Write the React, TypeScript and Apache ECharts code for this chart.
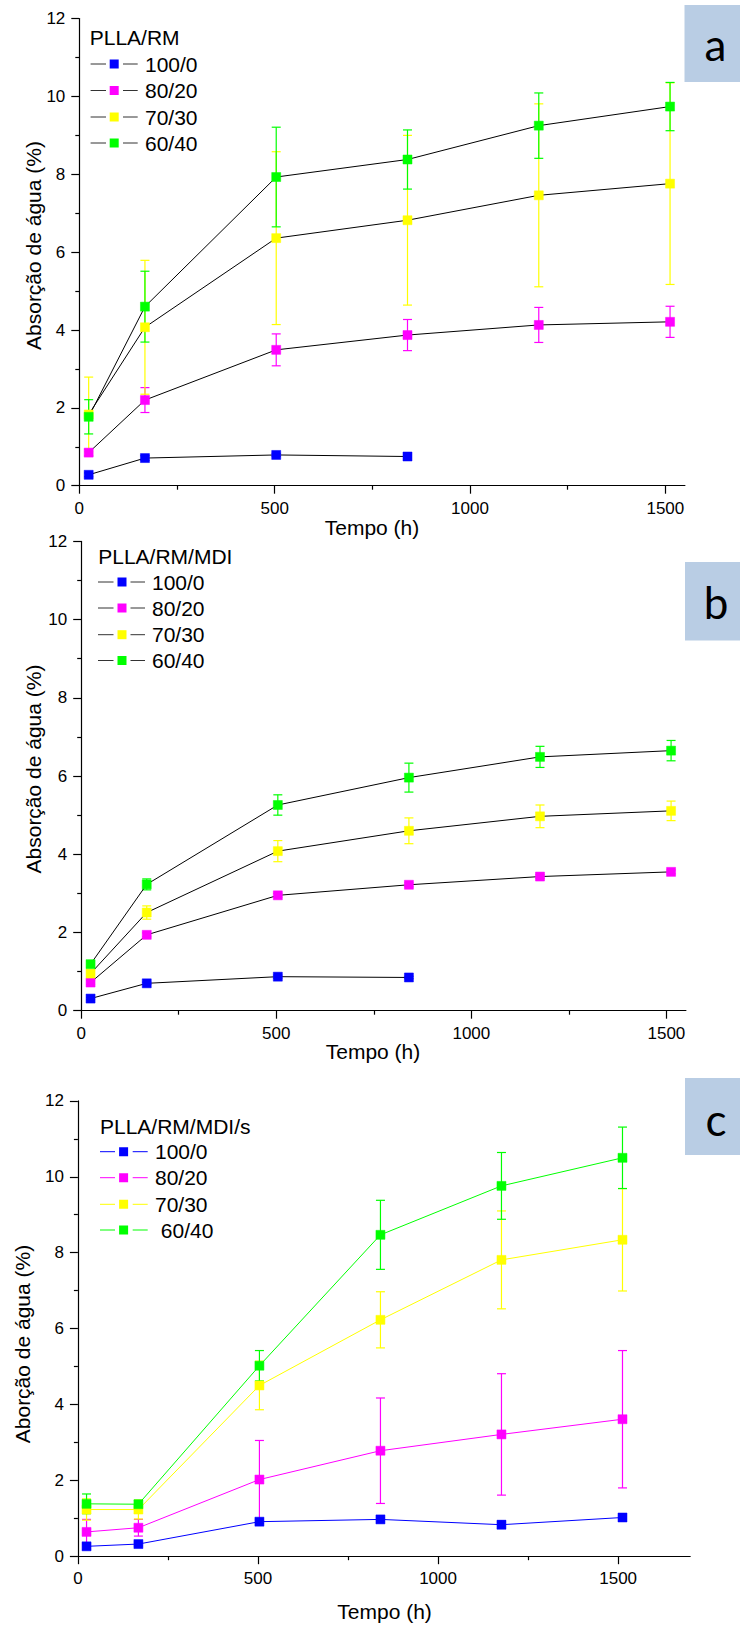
import React, { useEffect, useRef } from "react";
import * as echarts from "echarts";

// ---------- data ----------
const times = [24, 168, 504, 840, 1176, 1512];
const compositions = ["100/0", "80/20", "70/30", "60/40"];
const compositionsC = ["100/0", "80/20", "70/30", " 60/40"];
const seriesColors = ["#0000ff", "#ff00ff", "#ffff00", "#00ff00"];

// Panel a: PLLA/RM
const aBlue = [0.28, 0.71, 0.79, 0.75];
const aBlueErr = [0.05, 0.06, 0.04, 0.03];
const aMagenta = [0.85, 2.2, 3.49, 3.87, 4.13, 4.21];
const aMagentaErr = [0.08, 0.32, 0.41, 0.4, 0.45, 0.4];
const aYellow = [1.83, 4.07, 6.36, 6.82, 7.46, 7.76];
const aYellowErr = [0.96, 1.72, 2.22, 2.18, 2.35, 2.59];
const aGreen = [1.77, 4.6, 7.93, 8.38, 9.25, 9.74];
const aGreenErr = [0.44, 0.91, 1.28, 0.76, 0.84, 0.62];

// Panel b: PLLA/RM/MDI
const bBlue = [0.31, 0.7, 0.87, 0.85];
const bBlueErr = [0.03, 0.03, 0.04, 0.03];
const bMagenta = [0.72, 1.94, 2.95, 3.22, 3.43, 3.55];
const bMagentaErr = [0.05, 0.05, 0.05, 0.05, 0.05, 0.05];
const bYellow = [0.95, 2.51, 4.08, 4.6, 4.97, 5.11];
const bYellowErr = [0.08, 0.17, 0.27, 0.33, 0.29, 0.25];
const bGreen = [1.19, 3.23, 5.26, 5.96, 6.49, 6.65];
const bGreenErr = [0.08, 0.14, 0.26, 0.37, 0.27, 0.26];

// Panel c: PLLA/RM/MDI/s
const cBlue = [0.26, 0.32, 0.91, 0.97, 0.83, 1.02];
const cBlueErr = [0.08, 0.05, 0.05, 0.04, 0.1, 0.05];
const cMagenta = [0.64, 0.75, 2.02, 2.78, 3.21, 3.61];
const cMagentaErr = [0.33, 0.22, 1.03, 1.39, 1.6, 1.81];
const cYellow = [1.23, 1.23, 4.5, 6.23, 7.81, 8.34];
const cYellowErr = [0.28, 0.25, 0.64, 0.74, 1.29, 1.35];
const cGreen = [1.38, 1.37, 5.02, 8.47, 9.76, 10.5];
const cGreenErr = [0.26, 0.1, 0.4, 0.91, 0.88, 0.81];

const xMajorTicks = [0, 500, 1000, 1500];
const xMinorTicks = [250, 750, 1250];

// ---------- layout ----------
const FONT = "'Liberation Sans', Arial, sans-serif";

type Panel = {
  letter: string;
  legendTitle: string;
  labels: string[];
  yTitle: string;
  values: number[][];
  errors: number[][];
  xMax: number;
  grid: { left: number; top: number; width: number; height: number };
  lineColored: boolean;
  yTitlePos: [number, number];
  xTitlePos: [number, number];
  legend: { titleX: number; titleY: number; ys: number[]; l1: number; l2: number; m: number; r1: number; r2: number; tx: number };
  box: { x: number; y: number; w: number; h: number; ty: number };
};

const panels: Panel[] = [
  {
    letter: "a",
    legendTitle: "PLLA/RM",
    labels: compositions,
    yTitle: "Absorção de água (%)",
    values: [aBlue, aMagenta, aYellow, aGreen],
    errors: [aBlueErr, aMagentaErr, aYellowErr, aGreenErr],
    xMax: 1550,
    grid: { left: 79.3, top: 18.6, width: 605.6, height: 467.1 },
    lineColored: false,
    yTitlePos: [33, 245.5],
    xTitlePos: [372, 527],
    legend: { titleX: 89.7, titleY: 37.5, ys: [64, 90.5, 117, 143], l1: 90.6, l2: 106, m: 114.2, r1: 123, r2: 137.7, tx: 145 },
    box: { x: 684.5, y: 5, w: 56, h: 77, ty: 44 },
  },
  {
    letter: "b",
    legendTitle: "PLLA/RM/MDI",
    labels: compositions,
    yTitle: "Absorção de água (%)",
    values: [bBlue, bMagenta, bYellow, bGreen],
    errors: [bBlueErr, bMagentaErr, bYellowErr, bGreenErr],
    xMax: 1550,
    grid: { left: 81.2, top: 541.4, width: 604.7, height: 469.3 },
    lineColored: false,
    yTitlePos: [33, 769],
    xTitlePos: [373, 1051],
    legend: { titleX: 98.2, titleY: 556.2, ys: [582, 608, 634.7, 660.5], l1: 98, l2: 113.5, m: 122, r1: 130.5, r2: 145, tx: 152 },
    box: { x: 685, y: 562, w: 55, h: 78.5, ty: 602 },
  },
  {
    letter: "c",
    legendTitle: "PLLA/RM/MDI/s",
    labels: compositionsC,
    yTitle: "Aborção de água (%)",
    values: [cBlue, cMagenta, cYellow, cGreen],
    errors: [cBlueErr, cMagentaErr, cYellowErr, cGreenErr],
    xMax: 1700,
    grid: { left: 77.9, top: 1100.9, width: 612.3, height: 455.3 },
    lineColored: true,
    yTitlePos: [22.6, 1344],
    xTitlePos: [384.6, 1611],
    legend: { titleX: 100, titleY: 1126.7, ys: [1151.7, 1177.7, 1204.3, 1230], l1: 100, l2: 115, m: 123.6, r1: 132.7, r2: 147.7, tx: 155 },
    box: { x: 685, y: 1078, w: 55, h: 77, ty: 1119 },
  },
];

function buildOption() {
  const grid: any[] = [];
  const xAxis: any[] = [];
  const yAxis: any[] = [];
  const series: any[] = [];
  const graphic: any[] = [];

  panels.forEach((p, pi) => {
    grid.push({ ...p.grid });
    // main x axis
    xAxis.push({
      type: "value",
      gridIndex: pi,
      min: 0,
      max: p.xMax,
      position: "bottom",
      axisLine: { show: true, onZero: false, lineStyle: { color: "#000", width: 1.2 } },
      axisTick: { show: true, customValues: xMajorTicks, length: 8, lineStyle: { color: "#000", width: 1.2 } },
      axisLabel: {
        customValues: xMajorTicks,
        formatter: (v: number) => String(v),
        margin: 14,
        fontSize: 17,
        color: "#000",
        fontFamily: FONT,
      },
      splitLine: { show: false },
    });
    // minor ticks x axis
    xAxis.push({
      type: "value",
      gridIndex: pi,
      min: 0,
      max: p.xMax,
      position: "bottom",
      axisLine: { show: false },
      axisTick: { show: true, customValues: xMinorTicks, length: 4, lineStyle: { color: "#000", width: 1.2 } },
      axisLabel: { show: false },
      splitLine: { show: false },
    });
    yAxis.push({
      type: "value",
      gridIndex: pi,
      min: 0,
      max: 12,
      interval: 2,
      axisLine: { show: true, onZero: false, lineStyle: { color: "#000", width: 1.2 } },
      axisTick: { show: true, length: 8, lineStyle: { color: "#000", width: 1.2 } },
      minorTick: { show: true, splitNumber: 2, length: 4, lineStyle: { color: "#000", width: 1.2 } },
      axisLabel: { margin: 14, fontSize: 17, color: "#000", fontFamily: FONT, formatter: (v: number) => String(v) },
      splitLine: { show: false },
    });

    const xIdx = pi * 2;
    // error bars
    p.values.forEach((vals, si) => {
      const color = seriesColors[si];
      const errs = p.errors[si];
      series.push({
        type: "custom",
        xAxisIndex: xIdx,
        yAxisIndex: pi,
        silent: true,
        z: 2,
        data: vals.map((v, i) => [times[i], v - errs[i], v + errs[i]]),
        renderItem: (params: any, api: any) => {
          const x = api.value(0);
          const lo = api.coord([x, api.value(1)]);
          const hi = api.coord([x, api.value(2)]);
          const hw = 4.5;
          const st = { stroke: color, lineWidth: 1.2 };
          return {
            type: "group",
            children: [
              { type: "line", shape: { x1: hi[0], y1: hi[1], x2: lo[0], y2: lo[1] }, style: st },
              { type: "line", shape: { x1: hi[0] - hw, y1: hi[1], x2: hi[0] + hw, y2: hi[1] }, style: st },
              { type: "line", shape: { x1: lo[0] - hw, y1: lo[1], x2: lo[0] + hw, y2: lo[1] }, style: st },
            ],
          };
        },
      });
    });
    // lines with markers
    p.values.forEach((vals, si) => {
      const color = seriesColors[si];
      series.push({
        type: "line",
        name: p.labels[si],
        xAxisIndex: xIdx,
        yAxisIndex: pi,
        z: 3,
        symbol: "rect",
        symbolSize: 9,
        showAllSymbol: true,
        data: vals.map((v, i) => [times[i], v]),
        lineStyle: { color: p.lineColored ? color : "#000", width: 1 },
        itemStyle: { color, borderColor: color, borderWidth: 0.5, opacity: 1 },
        emphasis: { disabled: true },
      });
    });

    // axis titles
    graphic.push({
      type: "text",
      x: p.yTitlePos[0],
      y: p.yTitlePos[1],
      rotation: Math.PI / 2,
      style: { text: p.yTitle, fontSize: 21, fontFamily: FONT, fill: "#000", align: "center", verticalAlign: "middle" },
    });
    graphic.push({
      type: "text",
      x: p.xTitlePos[0],
      y: p.xTitlePos[1],
      style: { text: "Tempo (h)", fontSize: 21, fontFamily: FONT, fill: "#000", align: "center", verticalAlign: "middle" },
    });

    // legend
    const L = p.legend;
    graphic.push({
      type: "text",
      x: L.titleX,
      y: L.titleY,
      style: { text: p.legendTitle, fontSize: 21, fontFamily: FONT, fill: "#000", align: "left", verticalAlign: "middle" },
    });
    p.labels.forEach((lab, si) => {
      const y = L.ys[si];
      const color = seriesColors[si];
      const lc = p.lineColored ? color : "#333";
      graphic.push({ type: "line", shape: { x1: L.l1, y1: y, x2: L.l2, y2: y }, style: { stroke: lc, lineWidth: 1 } });
      graphic.push({ type: "line", shape: { x1: L.r1, y1: y, x2: L.r2, y2: y }, style: { stroke: lc, lineWidth: 1 } });
      graphic.push({ type: "rect", shape: { x: L.m - 4.5, y: y - 4.5, width: 9, height: 9 }, style: { fill: color } });
      graphic.push({
        type: "text",
        x: L.tx,
        y,
        style: { text: lab, fontSize: 21, fontFamily: FONT, fill: "#000", align: "left", verticalAlign: "middle" },
      });
    });

    // panel letter box
    const B = p.box;
    graphic.push({ type: "rect", shape: { x: B.x, y: B.y, width: B.w, height: B.h }, style: { fill: "#b9cde4" } });
    graphic.push({
      type: "text",
      x: B.x + 31,
      y: B.ty,
      style: { text: p.letter, fontSize: 44, fontFamily: "Lato, 'Open Sans', sans-serif", fill: "#000", align: "center", verticalAlign: "middle" },
    });
  });

  return { animation: false, backgroundColor: "#fff", grid, xAxis, yAxis, series, graphic };
}

export default function App() {
  const ref = useRef<HTMLDivElement>(null);
  useEffect(() => {
    document.body.style.margin = "0";
    if (!ref.current) return;
    const chart = echarts.init(ref.current, undefined, { renderer: "svg" });
    chart.setOption(buildOption() as any);
    return () => chart.dispose();
  }, []);
  return <div ref={ref} style={{ width: 740, height: 1627 }} />;
}
